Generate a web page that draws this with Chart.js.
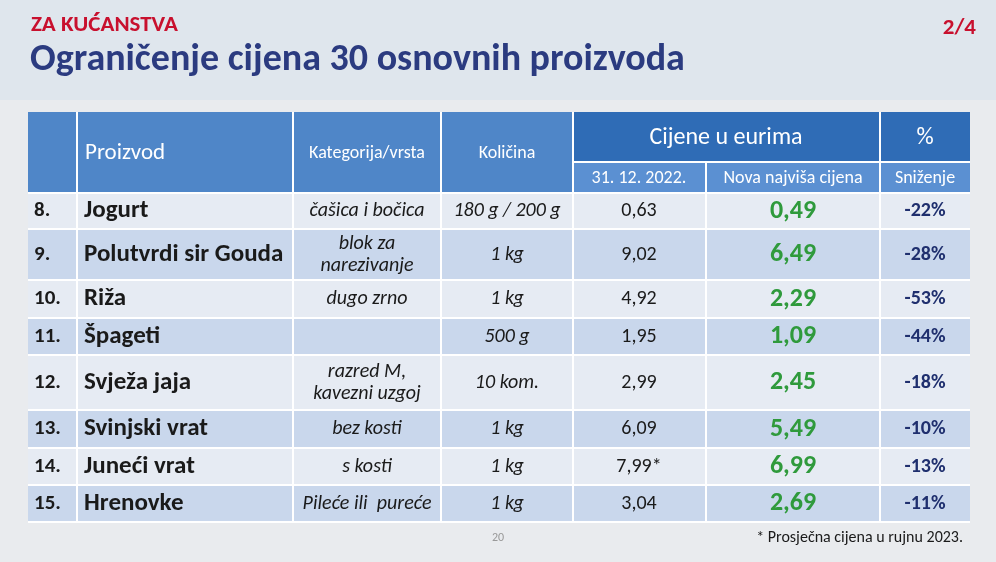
<!DOCTYPE html>
<html><head><meta charset="utf-8">
<script src="https://cdn.jsdelivr.net/npm/chart.js@4"></script>
<style>html,body{margin:0;padding:0;background:#e9ebee}</style>
</head><body>
<canvas id="c" width="996" height="562"></canvas>
<script>
const nums = ['8.', '9.', '10.', '11.', '12.', '13.', '14.', '15.'];
const products = ['Jogurt', 'Polutvrdi sir Gouda', 'Riža', 'Špageti', 'Svježa jaja', 'Svinjski vrat', 'Juneći vrat', 'Hrenovke'];
const categories = [['čašica i bočica'], ['blok za', 'narezivanje'], ['dugo zrno'], [''], ['razred M,', 'kavezni uzgoj'], ['bez kosti'], ['s kosti'], ['Pileće ili  pureće']];
const amounts = ['180 g / 200 g', '1 kg', '1 kg', '500 g', '10 kom.', '1 kg', '1 kg', '1 kg'];
const oldPrices = ['0,63', '9,02', '4,92', '1,95', '2,99', '6,09', '7,99*', '3,04'];
const newPrices = ['0,49', '6,49', '2,29', '1,09', '2,45', '5,49', '6,99', '2,69'];
const cuts = ['-22%', '-28%', '-53%', '-44%', '-18%', '-10%', '-13%', '-11%'];
const rowHeights = [36, 51, 38, 37, 55, 38, 37, 37];
const colEdges = [28, 77, 293, 441, 573, 706, 880, 970];

const tablePlugin = {
  id: 'table',
  afterDraw(chart) {
    const ctx = chart.ctx, xs = chart.scales.x, ys = chart.scales.y;
    const X = v => xs.getPixelForValue(v), Y = v => ys.getPixelForValue(v);
    const F = 'Calibri, "Liberation Sans", "Open Sans", sans-serif';
    // page header
    ctx.fillStyle = '#dfe6ed'; ctx.fillRect(0, 0, 996, Y(100));
    ctx.fillStyle = '#c8102e'; ctx.font = 'bold 23px ' + F; ctx.textBaseline = 'middle';
    ctx.textAlign = 'left'; ctx.fillText('ZA KUĆANSTVA', X(31), Y(25));
    ctx.textAlign = 'right'; ctx.fillText('2/4', X(976), Y(28));
    ctx.fillStyle = '#2b3b80'; ctx.font = 'bold 38px ' + F; ctx.textAlign = 'left';
    ctx.fillText('Ograničenje cijena 30 osnovnih proizvoda', X(30), Y(60));
    // header cells
    const hTop = 112, hMid = 162, hBot = 193;
    ctx.fillStyle = '#4f86c8'; ctx.fillRect(X(28), Y(hTop), X(573) - X(28), Y(hBot) - Y(hTop));
    ctx.fillStyle = '#2f6cb6'; ctx.fillRect(X(573), Y(hTop), X(970) - X(573), Y(hMid) - Y(hTop));
    ctx.fillStyle = '#5b90d2'; ctx.fillRect(X(573), Y(hMid), X(970) - X(573), Y(hBot) - Y(hMid));
    ctx.fillStyle = '#fff';
    ctx.font = '23px ' + F; ctx.textAlign = 'left'; ctx.fillText('Proizvod', X(85), Y(153));
    ctx.font = '18px ' + F; ctx.textAlign = 'center';
    ctx.fillText('Kategorija/vrsta', X(367), Y(153)); ctx.fillText('Količina', X(507), Y(153));
    ctx.font = '24px ' + F; ctx.fillText('Cijene u eurima', X(726), Y(138)); ctx.fillText('%', X(925), Y(138));
    ctx.font = '18px ' + F;
    ctx.fillText('31. 12. 2022.', X(639), Y(178)); ctx.fillText('Nova najviša cijena', X(793), Y(178)); ctx.fillText('Sniženje', X(925), Y(178));
    // body rows
    let y = hBot;
    nums.forEach((n, i) => {
      const h = rowHeights[i], top = y, mid = y + h / 2;
      ctx.fillStyle = i % 2 ? '#c9d7ec' : '#e6ebf3';
      ctx.fillRect(X(28), Y(top), X(970) - X(28), Y(top + h) - Y(top));
      ctx.fillStyle = '#1a1a1a'; ctx.textAlign = 'left'; ctx.font = 'bold 21px ' + F;
      ctx.fillText(n, X(34), Y(mid)); ctx.font = 'bold 25px ' + F; ctx.fillText(products[i], X(84), Y(mid));
      ctx.textAlign = 'center'; ctx.font = 'italic 20px ' + F;
      const lines = categories[i];
      lines.forEach((l, k) => ctx.fillText(l, X(367), Y(mid + (k - (lines.length - 1) / 2) * 22)));
      ctx.fillText(amounts[i], X(507), Y(mid));
      ctx.font = '20px ' + F; ctx.fillText(oldPrices[i], X(639), Y(mid));
      ctx.fillStyle = '#2f9a3c'; ctx.font = 'bold 26px ' + F; ctx.fillText(newPrices[i], X(793), Y(mid));
      ctx.fillStyle = '#1f2f6e'; ctx.font = 'bold 20px ' + F; ctx.fillText(cuts[i], X(925), Y(mid));
      y += h;
    });
    // grid lines
    ctx.strokeStyle = '#ffffff'; ctx.lineWidth = 2;
    colEdges.slice(1, -1).forEach(c => {
      ctx.beginPath(); ctx.moveTo(X(c), Y(c > 573 && c < 880 ? hMid : hTop)); ctx.lineTo(X(c), Y(y)); ctx.stroke();
    });
    ctx.beginPath(); ctx.moveTo(X(573), Y(hMid)); ctx.lineTo(X(970), Y(hMid)); ctx.stroke();
    let yy = hBot;
    rowHeights.forEach(h => { yy += h; ctx.beginPath(); ctx.moveTo(X(28), Y(yy)); ctx.lineTo(X(970), Y(yy)); ctx.stroke(); });
    ctx.beginPath(); ctx.moveTo(X(28), Y(hBot)); ctx.lineTo(X(970), Y(hBot)); ctx.stroke();
    // footer
    ctx.fillStyle = '#999'; ctx.font = '12px ' + F; ctx.textAlign = 'center'; ctx.fillText('20', X(498), Y(538));
    ctx.fillStyle = '#1a1a1a'; ctx.font = '16px ' + F; ctx.textAlign = 'right';
    ctx.fillText('* Prosječna cijena u rujnu 2023.', X(963), Y(538));
  }
};

new Chart(document.getElementById('c').getContext('2d'), {
  type: 'scatter',
  data: { datasets: [] },
  options: {
    responsive: false, animation: false,
    layout: { padding: 0 },
    plugins: { legend: { display: false }, tooltip: { enabled: false } },
    scales: {
      x: { type: 'linear', min: 0, max: 996, display: false, offset: false },
      y: { type: 'linear', min: 0, max: 562, reverse: true, display: false, offset: false }
    }
  },
  plugins: [tablePlugin]
});
</script>
</body></html>
